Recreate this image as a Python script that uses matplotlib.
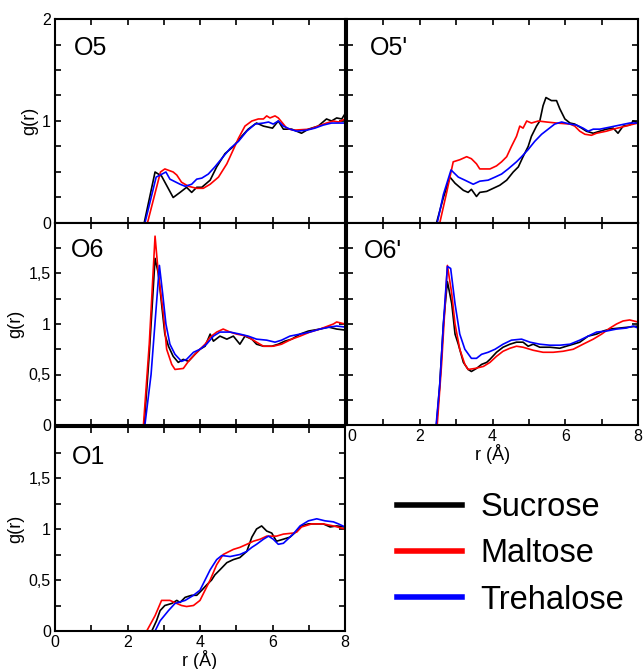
import matplotlib
matplotlib.use("Agg")
import matplotlib.pyplot as plt
from matplotlib.lines import Line2D
from matplotlib.ticker import MultipleLocator, FixedLocator, FuncFormatter

plt.rcParams['font.family'] = ['Liberation Sans', 'DejaVu Sans']

# ---- data (r in Angstrom, g(r)) ----
series_names = ['Sucrose', 'Maltose', 'Trehalose']
series_colors = ['#000000', '#ff0000', '#0000ff']
panel_names = ['O5', "O5'", 'O6', "O6'", 'O1']

# O5
r_o5_suc = [0, 2.46, 2.76, 2.94, 3.26, 3.45, 3.63, 3.77, 3.91, 4.05, 4.28, 4.46, 4.69, 4.92, 5.15, 5.33, 5.56, 5.75,
            6.00, 6.16, 6.30, 6.53, 6.80, 6.99, 7.26, 7.49, 7.63, 7.77, 7.91, 8.0]
g_o5_suc = [0, 0, 0.50, 0.46, 0.25, 0.30, 0.35, 0.30, 0.35, 0.35, 0.42, 0.55, 0.68, 0.75, 0.85, 0.92, 0.98, 0.95,
            0.93, 1.00, 0.92, 0.92, 0.88, 0.92, 0.95, 1.02, 1.00, 1.03, 1.02, 1.07]
r_o5_mal = [0, 2.55, 2.91, 3.03, 3.26, 3.36, 3.49, 3.68, 3.91, 4.09, 4.28, 4.51, 4.74, 4.92, 5.06, 5.24, 5.43, 5.61,
            5.75, 5.84, 5.93, 6.07, 6.16, 6.30, 6.39, 6.57, 7.03, 7.26, 7.49, 7.68, 7.82, 8.0]
g_o5_mal = [0, 0, 0.50, 0.53, 0.50, 0.47, 0.40, 0.36, 0.34, 0.34, 0.38, 0.45, 0.58, 0.72, 0.83, 0.95, 1.00, 1.02,
            1.02, 1.05, 1.03, 1.05, 1.03, 0.97, 0.93, 0.91, 0.92, 0.95, 0.98, 1.00, 0.99, 1.02]
r_o5_tre = [0, 2.48, 2.79, 2.90, 3.06, 3.17, 3.45, 3.59, 3.77, 3.91, 4.05, 4.23, 4.41, 4.64, 4.83, 5.06, 5.29, 5.52,
            5.75, 5.89, 6.02, 6.16, 6.30, 6.48, 6.67, 6.94, 7.17, 7.40, 7.63, 8.0]
g_o5_tre = [0, 0, 0.45, 0.47, 0.50, 0.43, 0.38, 0.36, 0.38, 0.43, 0.44, 0.48, 0.55, 0.65, 0.73, 0.80, 0.90, 0.97,
            0.98, 0.99, 0.97, 1.00, 0.95, 0.92, 0.90, 0.91, 0.93, 0.96, 0.98, 0.98]

# O5'
r_o5p_suc = [0, 2.46, 2.65, 2.83, 2.97, 3.20, 3.33, 3.42, 3.56, 3.65, 3.84, 4.02, 4.20, 4.39, 4.57, 4.71, 4.84, 4.98,
             5.07, 5.21, 5.30, 5.39, 5.47, 5.62, 5.76, 5.85, 5.99, 6.13, 6.26, 6.45, 6.58, 6.77, 6.95, 7.13, 7.32,
             7.45, 7.59, 7.77, 7.87, 8.0]
g_o5p_suc = [0, 0, 0.25, 0.45, 0.39, 0.32, 0.30, 0.33, 0.26, 0.30, 0.31, 0.34, 0.37, 0.42, 0.50, 0.55, 0.65, 0.75,
             0.85, 0.95, 1.00, 1.15, 1.23, 1.20, 1.20, 1.12, 1.02, 0.98, 0.97, 0.93, 0.90, 0.88, 0.90, 0.92, 0.93,
             0.88, 0.95, 0.96, 1.00, 0.98]
r_o5p_mal = [0, 2.55, 2.74, 2.92, 3.10, 3.29, 3.42, 3.56, 3.65, 3.93, 4.11, 4.25, 4.39, 4.52, 4.66, 4.75, 4.84, 4.94,
             5.07, 5.26, 5.49, 5.76, 6.13, 6.26, 6.40, 6.54, 6.72, 6.86, 7.13, 7.32, 7.55, 7.77, 8.0]
g_o5p_mal = [0, 0, 0.30, 0.60, 0.62, 0.65, 0.63, 0.58, 0.53, 0.53, 0.56, 0.60, 0.65, 0.75, 0.85, 0.95, 0.93, 1.00,
             0.98, 1.00, 0.99, 0.98, 0.97, 0.95, 0.90, 0.87, 0.86, 0.88, 0.90, 0.92, 0.94, 0.96, 0.98]
r_o5p_tre = [0, 2.48, 2.65, 2.86, 3.06, 3.24, 3.47, 3.65, 3.88, 4.07, 4.25, 4.43, 4.66, 4.80, 4.98, 5.16, 5.35, 5.53,
             5.71, 5.90, 6.13, 6.31, 6.49, 6.63, 6.77, 6.95, 7.23, 7.50, 7.77, 8.0]
g_o5p_tre = [0, 0, 0.28, 0.52, 0.45, 0.42, 0.38, 0.41, 0.42, 0.45, 0.48, 0.53, 0.60, 0.65, 0.72, 0.80, 0.87, 0.92,
             0.97, 0.99, 0.97, 0.96, 0.93, 0.90, 0.92, 0.92, 0.94, 0.96, 0.98, 0.98]

# O6
r_o6_suc = [0, 2.46, 2.60, 2.76, 2.85, 2.94, 3.03, 3.13, 3.26, 3.40, 3.54, 3.68, 3.86, 4.00, 4.14, 4.28, 4.37, 4.55,
            4.74, 4.92, 5.10, 5.24, 5.43, 5.56, 5.75, 5.98, 6.16, 6.34, 6.53, 6.76, 6.99, 7.31, 7.54, 7.77, 8.0]
g_o6_suc = [0, 0, 0.70, 1.65, 1.50, 1.20, 0.90, 0.78, 0.68, 0.62, 0.65, 0.63, 0.70, 0.75, 0.78, 0.90, 0.83, 0.88,
            0.85, 0.88, 0.80, 0.88, 0.85, 0.80, 0.78, 0.78, 0.80, 0.83, 0.85, 0.90, 0.93, 0.95, 0.97, 0.95, 0.94]
r_o6_mal = [0, 2.44, 2.60, 2.76, 2.85, 2.99, 3.08, 3.22, 3.31, 3.54, 3.68, 3.86, 4.00, 4.14, 4.28, 4.46, 4.64, 4.83,
            5.01, 5.29, 5.56, 5.75, 6.02, 6.25, 6.53, 6.76, 7.03, 7.31, 7.68, 7.77, 8.0]
g_o6_mal = [0, 0, 0.80, 1.87, 1.50, 1.10, 0.75, 0.60, 0.55, 0.56, 0.63, 0.70, 0.75, 0.80, 0.87, 0.92, 0.95, 0.92,
            0.90, 0.88, 0.82, 0.78, 0.78, 0.80, 0.85, 0.88, 0.92, 0.95, 1.00, 1.02, 1.00]
r_o6_tre = [0, 2.48, 2.65, 2.88, 2.97, 3.06, 3.17, 3.31, 3.49, 3.63, 3.82, 4.00, 4.18, 4.37, 4.55, 4.83, 5.10, 5.33,
            5.56, 5.84, 6.07, 6.25, 6.48, 6.76, 7.03, 7.31, 7.59, 7.77, 8.0]
g_o6_tre = [0, 0, 0.50, 1.58, 1.30, 1.00, 0.80, 0.70, 0.63, 0.65, 0.72, 0.75, 0.80, 0.88, 0.92, 0.92, 0.90, 0.88,
            0.85, 0.84, 0.82, 0.84, 0.88, 0.90, 0.92, 0.95, 0.97, 0.98, 0.97]

# O6'
r_o6p_suc = [0, 2.46, 2.55, 2.65, 2.76, 2.88, 2.97, 3.06, 3.20, 3.33, 3.42, 3.56, 3.70, 3.84, 3.93, 4.11, 4.29, 4.48,
             4.66, 4.84, 4.98, 5.12, 5.30, 5.58, 5.85, 6.03, 6.22, 6.40, 6.63, 6.86, 7.04, 7.23, 7.50, 7.77, 8.0]
g_o6p_suc = [0, 0, 0.40, 1.00, 1.42, 1.20, 0.90, 0.80, 0.62, 0.55, 0.53, 0.56, 0.60, 0.62, 0.65, 0.72, 0.77, 0.80,
             0.82, 0.82, 0.78, 0.80, 0.77, 0.77, 0.76, 0.78, 0.80, 0.82, 0.88, 0.90, 0.93, 0.95, 0.96, 0.97, 0.98]
r_o6p_mal = [0, 2.48, 2.60, 2.76, 2.88, 2.97, 3.10, 3.24, 3.33, 3.52, 3.75, 3.93, 4.11, 4.29, 4.48, 4.66, 4.84, 5.12,
             5.39, 5.67, 5.94, 6.22, 6.49, 6.77, 7.00, 7.23, 7.41, 7.59, 7.77, 8.0]
g_o6p_mal = [0, 0, 0.60, 1.58, 1.30, 1.00, 0.75, 0.60, 0.55, 0.56, 0.58, 0.62, 0.68, 0.73, 0.76, 0.78, 0.77, 0.74,
             0.72, 0.72, 0.73, 0.75, 0.80, 0.85, 0.90, 0.96, 1.00, 1.03, 1.04, 1.02]
r_o6p_tre = [0, 2.45, 2.55, 2.65, 2.76, 2.85, 2.97, 3.10, 3.24, 3.42, 3.56, 3.70, 3.88, 4.07, 4.29, 4.52, 4.80, 5.03,
             5.30, 5.58, 5.85, 6.13, 6.40, 6.63, 6.86, 7.13, 7.41, 7.68, 7.87, 8.0]
g_o6p_tre = [0, 0, 0.40, 1.00, 1.57, 1.55, 1.20, 0.90, 0.75, 0.66, 0.66, 0.70, 0.72, 0.75, 0.80, 0.84, 0.85, 0.82,
             0.80, 0.79, 0.79, 0.80, 0.84, 0.88, 0.92, 0.93, 0.95, 0.96, 0.98, 0.96]

# O1
r_o1_suc = [0, 2.67, 2.80, 2.90, 3.03, 3.22, 3.36, 3.45, 3.59, 3.77, 3.91, 4.05, 4.18, 4.32, 4.41, 4.55, 4.74, 4.92,
            5.10, 5.29, 5.43, 5.56, 5.70, 5.84, 5.98, 6.11, 6.30, 6.48, 6.67, 6.80, 6.99, 7.22, 7.40, 7.59, 7.77, 8.0]
g_o1_suc = [0, 0, 0.10, 0.20, 0.25, 0.27, 0.30, 0.28, 0.33, 0.35, 0.35, 0.40, 0.45, 0.50, 0.55, 0.60, 0.67, 0.70,
            0.72, 0.78, 0.92, 1.00, 1.03, 0.98, 0.96, 0.88, 0.90, 0.92, 0.98, 1.03, 1.05, 1.05, 1.05, 1.02, 1.03, 1.02]
r_o1_mal = [0, 2.53, 2.76, 2.94, 3.17, 3.36, 3.49, 3.63, 3.82, 4.00, 4.14, 4.28, 4.46, 4.64, 4.92, 5.10, 5.29, 5.47,
            5.66, 5.84, 6.11, 6.30, 6.57, 6.67, 6.80, 7.08, 7.40, 7.68, 8.0]
g_o1_mal = [0, 0, 0.15, 0.30, 0.30, 0.27, 0.25, 0.24, 0.25, 0.30, 0.40, 0.50, 0.65, 0.75, 0.80, 0.82, 0.85, 0.88,
            0.90, 0.93, 0.93, 0.95, 0.96, 0.97, 1.02, 1.05, 1.05, 1.03, 1.00]
r_o1_tre = [0, 2.76, 2.90, 3.13, 3.31, 3.59, 3.82, 4.00, 4.14, 4.28, 4.46, 4.60, 4.83, 5.10, 5.29, 5.43, 5.56, 5.75,
            5.89, 6.02, 6.16, 6.30, 6.48, 6.57, 6.76, 6.99, 7.22, 7.45, 7.68, 7.82, 8.0]
g_o1_tre = [0, 0, 0.10, 0.20, 0.27, 0.30, 0.35, 0.40, 0.50, 0.60, 0.70, 0.74, 0.73, 0.75, 0.78, 0.82, 0.85, 0.90,
            0.93, 0.90, 0.85, 0.86, 0.92, 0.95, 1.03, 1.08, 1.10, 1.08, 1.07, 1.05, 1.02]

panel_data = [
    [(r_o5_suc, g_o5_suc), (r_o5_mal, g_o5_mal), (r_o5_tre, g_o5_tre)],
    [(r_o5p_suc, g_o5p_suc), (r_o5p_mal, g_o5p_mal), (r_o5p_tre, g_o5p_tre)],
    [(r_o6_suc, g_o6_suc), (r_o6_mal, g_o6_mal), (r_o6_tre, g_o6_tre)],
    [(r_o6p_suc, g_o6p_suc), (r_o6p_mal, g_o6p_mal), (r_o6p_tre, g_o6p_tre)],
    [(r_o1_suc, g_o1_suc), (r_o1_mal, g_o1_mal), (r_o1_tre, g_o1_tre)],
]


def comma_fmt(v, pos):
    return ('%g' % v).replace('.', ',')


W, H = 643, 669
fig = plt.figure(figsize=(W / 100, H / 100), dpi=100)


def px_axes(x0, x1, y0, y1):
    # pixel box (top-left origin) -> figure axes
    return fig.add_axes([x0 / W, 1 - y1 / H, (x1 - x0) / W, (y1 - y0) / H])


boxes = [
    (55, 345, 19, 223),
    (347, 638, 19, 223),
    (55, 345, 223, 425),
    (347, 638, 223, 425),
    (55, 345, 427, 631),
]
label_pos = [(0.065, 0.86), (0.08, 0.86), (0.055, 0.865), (0.058, 0.86), (0.058, 0.855)]

axes = []
for i, (box, name, data) in enumerate(zip(boxes, panel_names, panel_data)):
    ax = px_axes(*box)
    axes.append(ax)
    for (r, g), c in zip(data, series_colors):
        ax.plot(r, g, color=c, lw=1.2)
    ax.set_xlim(0, 8)
    ax.set_ylim(0, 2)
    ax.xaxis.set_major_locator(MultipleLocator(2))
    ax.xaxis.set_minor_locator(MultipleLocator(1))
    if i < 2:
        ax.yaxis.set_major_locator(FixedLocator([0, 1, 2]))
    else:
        ax.yaxis.set_major_locator(FixedLocator([0, 0.5, 1, 1.5]))
    ax.yaxis.set_minor_locator(MultipleLocator(0.25))
    ax.yaxis.set_major_formatter(FuncFormatter(comma_fmt))
    ax.tick_params(which='both', direction='in', top=True, right=True, width=1.2, labelsize=11.5)
    ax.tick_params(which='major', length=4.5, pad=3)
    ax.tick_params(which='minor', length=4)
    for sp in ax.spines.values():
        sp.set_linewidth(1.5)
    if i % 2 == 1:
        ax.tick_params(labelleft=False)
    else:
        ax.set_ylabel('g(r)', fontsize=13, labelpad=3)
    if i in (3, 4):
        ax.set_xlabel('r (Å)', fontsize=13, labelpad=0)
    else:
        ax.tick_params(labelbottom=False)
    ax.text(label_pos[i][0], label_pos[i][1], name, transform=ax.transAxes,
            fontsize=18, ha='left', va='center')

handles = [Line2D([], [], color=c, lw=4) for c in series_colors]
fig.legend(handles, series_names, loc='upper left', bbox_to_anchor=(397 / W, 1 - 492 / H),
           frameon=False, fontsize=23.5, handlelength=2.0, handletextpad=0.55,
           labelspacing=0.47, borderpad=0, borderaxespad=0)

# the "0" under O6' sits just right of the shared spine
fig.canvas.draw()
for t in axes[3].xaxis.get_major_ticks():
    if abs(t.get_loc()) < 1e-9:
        t.label1.set_horizontalalignment('left')

fig.savefig('out.png', dpi=100)
